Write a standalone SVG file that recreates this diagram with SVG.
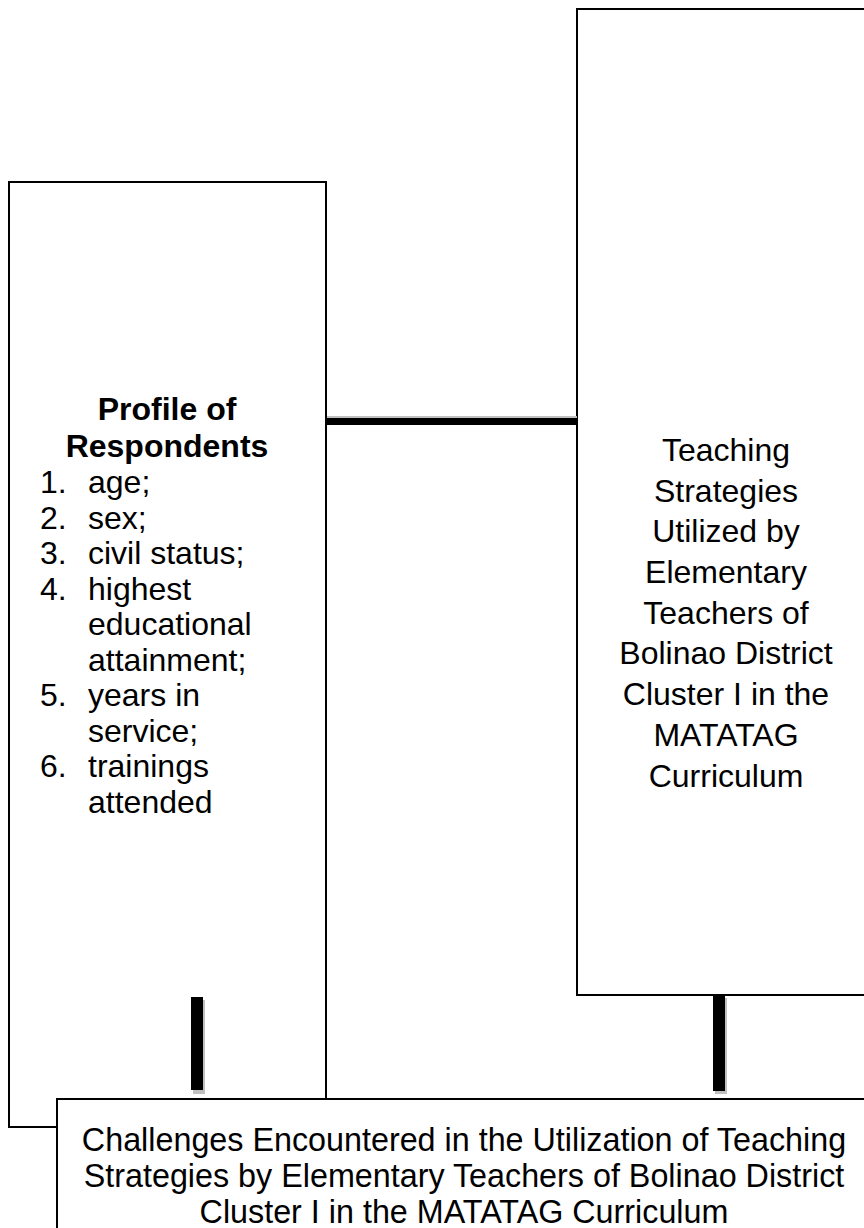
<svg xmlns="http://www.w3.org/2000/svg" width="864" height="1228" viewBox="0 0 864 1228">
<style>
.box{fill:#ffffff;stroke:#000000;stroke-width:2}
.t{font-family:"Liberation Sans",Arial,sans-serif;font-size:32px;fill:#000000}
.c{text-anchor:middle}
.b{font-weight:bold}
.bar{fill:#000000}
.sh{fill:#c0c0c0}
.bt{font-size:32.3px}
</style>
<rect x="0" y="0" width="864" height="1228" fill="#ffffff"/>
<g id="node-profile">
<rect class="box" x="9" y="182" width="317" height="945"/>
<text class="t b c" x="167" y="420">Profile of</text>
<text class="t b c" x="167" y="457">Respondents</text>
<g class="t">
<text x="40" y="493">1.</text><text x="88" y="493">age;</text>
<text x="40" y="529">2.</text><text x="88" y="529">sex;</text>
<text x="40" y="564">3.</text><text x="88" y="564">civil status;</text>
<text x="40" y="600">4.</text><text x="88" y="600">highest</text>
<text x="88" y="635">educational</text>
<text x="88" y="671">attainment;</text>
<text x="40" y="706">5.</text><text x="88" y="706">years in</text>
<text x="88" y="742">service;</text>
<text x="40" y="777">6.</text><text x="88" y="777">trainings</text>
<text x="88" y="813">attended</text>
</g>
</g>
<g id="node-strategies">
<rect class="box" x="577" y="9" width="300" height="986"/>
<g class="t c">
<text x="726" y="461">Teaching</text>
<text x="726" y="502">Strategies</text>
<text x="726" y="542">Utilized by</text>
<text x="726" y="583">Elementary</text>
<text x="726" y="624">Teachers of</text>
<text x="726" y="664">Bolinao District</text>
<text x="726" y="705">Cluster I in the</text>
<text x="726" y="746">MATATAG</text>
<text x="726" y="787">Curriculum</text>
</g>
</g>
<g id="connectors">
<rect class="sh" x="327" y="416" width="250" height="2"/>
<rect class="bar" x="327" y="418" width="250" height="7"/>
<rect class="sh" x="193" y="1000" width="12" height="94"/>
<rect class="bar" x="191" y="997" width="12" height="93"/>
<rect class="sh" x="715" y="998" width="12" height="96"/>
<rect class="bar" x="713" y="996" width="12" height="95"/>
</g>
<g id="node-challenges">
<rect class="box" x="57" y="1099" width="820" height="140"/>
<g class="t c bt">
<text x="464" y="1151">Challenges Encountered in the Utilization of Teaching</text>
<text x="464" y="1187">Strategies by Elementary Teachers of Bolinao District</text>
<text x="464" y="1223">Cluster I in the MATATAG Curriculum</text>
</g>
</g>
</svg>
